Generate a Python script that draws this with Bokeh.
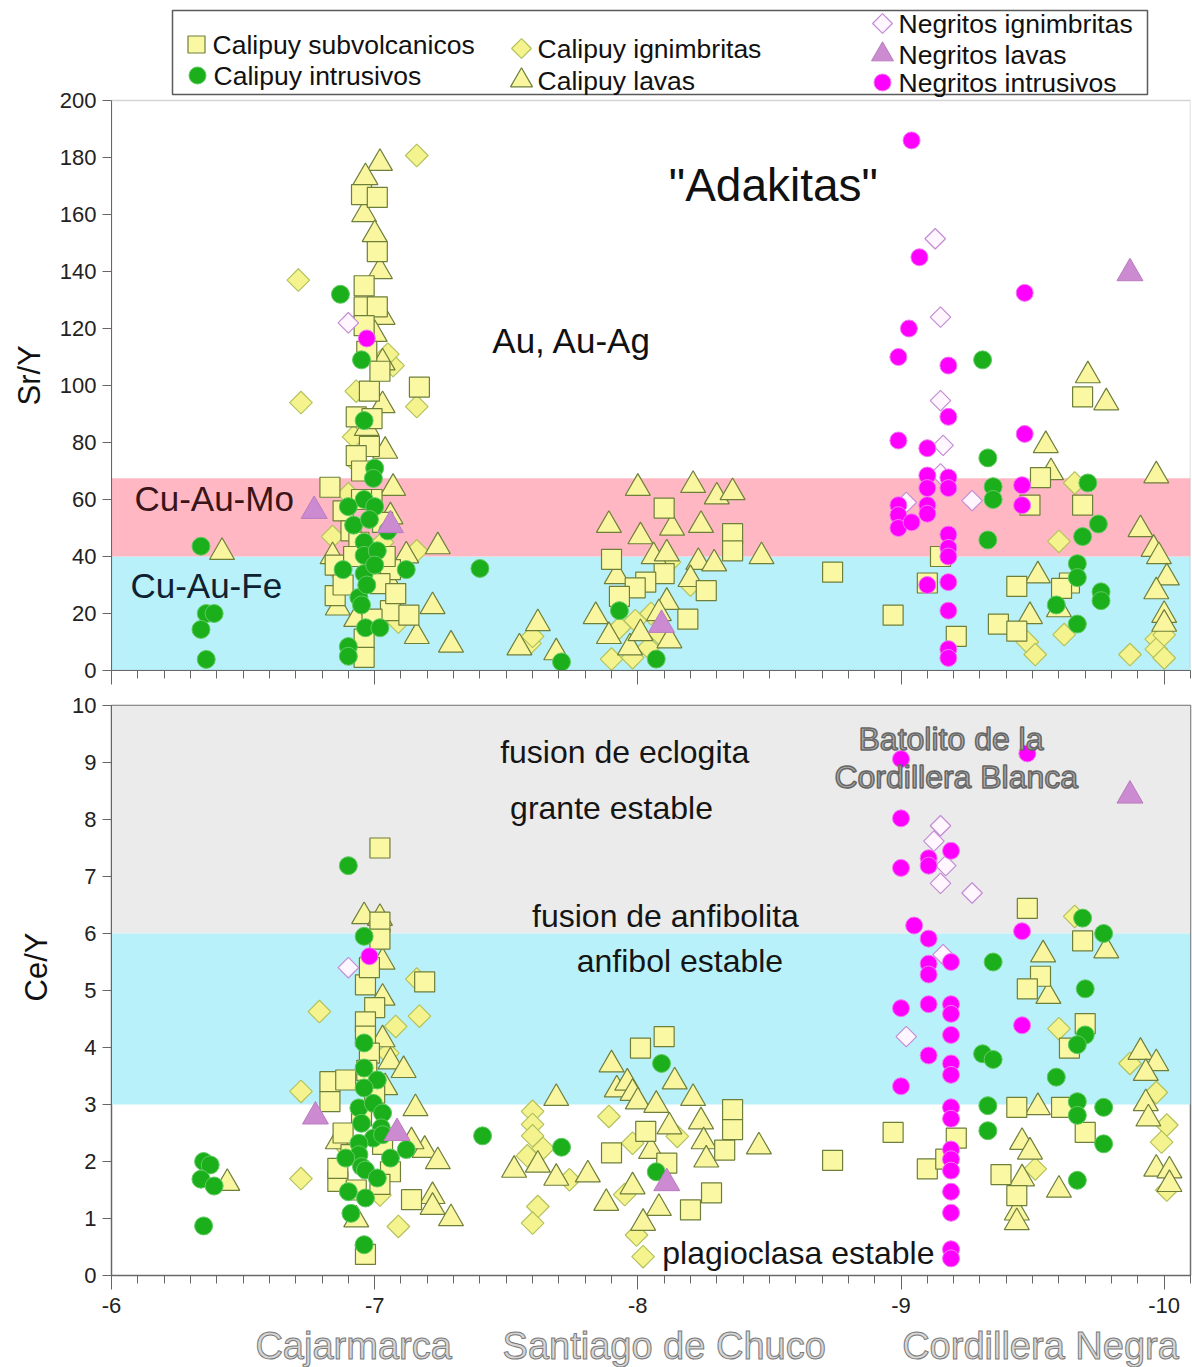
import numpy as np
from bokeh.plotting import figure
from bokeh.layouts import column
from bokeh.models import (Range1d, BoxAnnotation, SingleIntervalTicker, ColumnDataSource,
                          CustomJSTickFormatter, Title)
from bokeh.core.properties import value
from bokeh.embed import file_html
from bokeh.resources import INLINE

FONT = "Liberation Sans"

# ---------------- DATA (Sr/Y top panel, Ce/Y bottom panel) ----------------
# Calipuy subvolcanicos (squares)
subv_top_x = [-6.95, -7.01, -7.01, -6.96, -6.96, -7.01, -6.96, -6.98, -7.17, -6.93, -6.99, -6.98, -6.93, -6.83,
              -6.88, -6.85, -7.06, -6.85, -7.06, -7.13, -7.02, -6.96, -6.96, -6.91, -6.97, -7.02, -6.95, -6.99,
              -6.94, -7.03, -6.92, -6.88, -7.08, -6.99, -6.95, -7.04,
              -8.10, -8.36, -8.36, -7.90, -8.10, -8.03, -8.26, -8.19, -7.99, -7.93, -8.74,
              -9.69, -9.53, -9.49, -9.69, -9.44, -9.64, -9.61, -9.37, -9.44, -8.97, -9.21, -9.10, -9.15]
subv_top_y = [167, 166, 147, 135, 127.6, 127.6, 121, 98, 99.4, 89, 88.4, 78.6, 75.4, 64.3,
              56, 37, 35.4, 26.3, 21, 19.4, 30.5, 11, 4.6, 49, 112, 105, 70, 60,
              45, 52, 40, 30, 27, 18, 60, 40,
              57, 48, 42, 39, 34, 31, 28, 18, 29, 26, 34.5,
              96, 67.7, 58, 58, 29.5, 30.7, 28.8, 16.3, 13.8, 19.4, 12, 30.7, 40]
subv_bot_x = [-7.02, -7.02, -7.02, -7.19, -6.965, -7.0, -6.965, -6.965, -6.83, -6.89, -6.83, -6.86, -6.86,
              -7.14, -6.965, -7.06, -6.91, -6.98, -7.0, -6.95, -7.03, -6.93, -7.02, -6.88, -6.98, -6.97,
              -8.01, -8.10, -8.36, -8.36, -8.03, -7.90, -8.33, -8.11, -8.28, -8.20, -8.74,
              -9.48, -9.69, -9.53, -9.48, -9.70, -9.64, -9.44, -9.61, -9.70, -8.97, -9.21, -9.10, -9.17,
              -9.38, -9.44]
subv_bot_y = [7.5, 6.2, 5.9, 5.15, 5.1, 4.7, 4.45, 4.2, 3.4, 3.43, 3.05, 1.65, 1.88,
              1.33, 0.37, 1.82, 2.12, 3.9, 3.2, 2.8, 2.3, 1.5, 1.6, 2.5, 5.4, 3.6,
              3.99, 4.19, 2.91, 2.56, 2.53, 2.15, 2.2, 1.97, 1.45, 1.15, 2.02,
              6.44, 5.87, 5.25, 5.03, 4.42, 3.99, 2.95, 2.95, 2.51, 2.51, 2.41, 1.87, 2.04,
              1.77, 1.4]

# Calipuy intrusivos (green circles)
intr_top_x = [-6.34, -6.36, -6.39, -6.34, -6.36,
              -6.87, -6.95, -6.96, -7.0, -6.995, -6.96, -6.90, -7.0, -6.92, -6.96, -6.96, -7.01, -6.88,
              -6.96, -6.94, -6.95, -6.965, -7.02, -6.90, -6.90, -7.12, -7.05, -6.98, -6.97, -7.0,
              -7.40, -7.93, -8.07, -7.71,
              -9.31, -9.33, -9.35, -9.35, -9.33, -9.71, -9.75, -9.69, -9.67, -9.67, -9.76, -9.76, -9.59, -9.67]
intr_top_y = [43.6, 20, 20, 14.4, 3.9,
              132, 109, 87.7, 71, 67.4, 60, 57.5, 57.5, 51, 45, 40.4, 42, 35.4,
              34, 25.6, 23, 15, 15, 8.4, 5, 35.4, 49, 53, 30, 37,
              35.8, 21, 4, 3,
              109, 74.6, 64.5, 60, 45.8, 65.8, 51.4, 47, 37.5, 32.6, 27.6, 24.5, 23, 16.3]
intr_bot_x = [-6.35, -6.375, -6.34, -6.39, -6.35,
              -6.90, -6.96, -6.96, -6.96, -7.01, -6.96, -6.94, -6.995, -7.03, -6.95, -7.025, -6.995, -7.03,
              -6.94, -6.94, -6.95, -6.89, -6.965, -7.01, -7.06, -7.12, -6.90, -6.965, -6.91, -6.96,
              -7.41, -7.71, -8.09, -8.07,
              -9.69, -9.77, -9.35, -9.70, -9.70, -9.67, -9.31, -9.35, -9.59, -9.33, -9.33, -9.67, -9.67,
              -9.77, -9.77, -9.67]
intr_bot_y = [2.0, 1.94, 1.69, 1.57, 0.87,
              7.19, 5.95, 4.08, 3.64, 3.43, 3.29, 2.94, 3.02, 2.85, 2.67, 2.59, 2.41, 2.47,
              2.32, 2.12, 1.91, 2.06, 1.85, 1.71, 2.06, 2.21, 1.47, 1.36, 1.09, 0.54,
              2.45, 2.25, 3.72, 1.82,
              6.27, 6.0, 5.5, 5.03, 4.22, 4.05, 3.89, 3.79, 3.48, 2.98, 2.54, 3.05, 2.81,
              2.95, 2.31, 1.67]

# Calipuy ignimbritas (yellow diamonds)
ign_top_x = [-7.16, -6.71, -6.72, -7.16, -7.07, -7.05, -6.93, -6.92, -6.94, -7.16, -6.84, -7.09, -6.86,
             -6.90, -7.03,
             -7.59, -7.90, -7.98, -8.05, -8.08, -8.12, -7.99, -8.04, -7.93, -7.60, -8.20,
             -9.60, -9.66, -9.48, -9.51, -9.87, -9.97, -9.97, -10.0, -10.0, -9.62]
ign_top_y = [180.7, 137, 94, 92.6, 107, 111, 98, 82, 72, 42, 47, 17, 35,
             62, 45,
             9.5, 4, 4.5, 20, 13, 38, 17.5, 8, 15, 12, 30,
             45.3, 65.8, 10, 5.6, 5.6, 11, 7.5, 4.4, 12.5, 12.6]
ign_bot_x = [-6.79, -7.17, -7.08, -7.16, -6.72, -6.72, -7.09, -7.02, -6.88, -7.05,
             -7.60, -7.60, -7.60, -7.64, -7.58, -7.62, -7.60, -7.74, -7.89, -7.995, -8.02, -7.98, -7.95, -8.15,
             -9.66, -9.87, -9.97, -10.01, -9.99, -9.60, -9.51, -10.01]
ign_bot_y = [4.63, 4.55, 4.37, 5.2, 3.23, 1.7, 0.86, 1.41, 2.3, 3.9,
             2.88, 2.65, 2.45, 2.23, 2.1, 1.21, 0.92, 1.68, 2.79, 0.71, 0.33, 2.32, 1.42, 2.44,
             6.3, 3.72, 3.21, 2.64, 2.34, 4.33, 1.87, 1.5]

# Calipuy lavas (yellow triangles)
lav_top_x = [-6.42,
             -7.02, -6.965, -6.96, -7.0, -7.02, -7.03, -7.03, -7.03, -7.04, -7.07, -7.06, -7.24, -7.22,
             -7.16, -7.29, -6.86, -6.84, -7.12, -7.0, -6.97, -7.06, -6.93,
             -8.0, -8.21, -8.30, -8.36, -7.89, -8.01, -8.13, -8.24, -8.47, -8.06, -8.11, -8.23, -8.29,
             -8.20, -7.92, -7.84, -7.62, -7.55, -7.69, -7.89, -7.97, -8.12, -8.01, -8.11, -8.08,
             -9.71, -9.78, -9.55, -9.57, -9.97, -9.91, -9.96, -9.98, -10.01, -9.97, -9.52, -9.49, -9.60,
             -10.0, -10.0]
lav_top_y = [41.5,
             178, 173, 160, 153, 140, 124, 108, 93, 77, 64, 54, 43.5, 22.5,
             12, 9, 22, 40, 40.3, 118, 85, 30, 18,
             64, 65, 61, 62.5, 51, 47, 50, 51, 40, 40, 41, 38, 37.5,
             32, 33, 19, 16.5, 8, 6.3, 12, 8, 10.5, 13, 24, 20,
             103.5, 94, 79, 69.5, 68.4, 49.5, 42.6, 40, 32.6, 27.7, 33.3, 19, 21.4,
             19.4, 16.3]
lav_bot_x = [-6.44,
             -6.96, -7.02, -7.03, -7.03, -7.03, -7.06, -7.11, -7.155, -7.04, -7.19, -7.24, -7.22, -7.22,
             -7.29, -6.93, -6.86, -7.14,
             -7.90, -7.69, -7.92, -7.96, -7.98, -8.0, -8.07, -8.14, -8.21, -8.12, -8.24, -8.25, -8.26,
             -8.46, -7.53, -7.62, -7.69, -7.81, -7.98, -7.88, -8.08, -8.02, -8.05,
             -9.54, -9.78, -9.56, -9.91, -9.97, -9.93, -9.52, -9.93, -9.94, -9.46, -9.49, -9.46, -9.60,
             -9.44, -9.44, -9.97, -10.02, -10.02]
lav_bot_y = [1.62,
             6.3, 6.27, 5.5, 4.87, 4.14, 3.75, 3.6, 2.93, 3.3, 2.2, 2.0, 1.39, 1.2,
             1.0, 0.98, 2.35, 2.35,
             3.7, 3.11, 3.26, 3.38, 3.2, 3.05, 2.99, 3.4, 3.11, 2.61, 2.7, 2.35, 2.03,
             2.26, 1.85, 1.94, 1.71, 1.77, 1.56, 1.27, 1.18, 0.92, 2.18,
             5.63, 5.7, 4.9, 3.92, 3.72, 3.55, 2.95, 3.02, 2.75, 2.34, 2.17, 1.7, 1.5,
             1.1, 0.93, 1.87, 1.84, 1.6]

# Negritos ignimbritas (open diamonds)
nign_top_x = [-6.90, -9.13, -9.15, -9.15, -9.16, -9.15, -9.02, -9.27]
nign_top_y = [122, 151.5, 124, 94.7, 79, 69, 59, 59.6]
nign_bot_x = [-6.90, -9.15, -9.125, -9.17, -9.15, -9.27, -9.16, -9.02]
nign_bot_y = [5.4, 7.89, 7.62, 7.19, 6.88, 6.71, 5.63, 4.19]

# Negritos lavas (purple triangles)
nlav_top_x = [-6.77, -7.06, -8.09, -9.87]
nlav_top_y = [56, 51, 16, 139.4]
nlav_bot_x = [-6.775, -7.085, -8.11, -9.87]
nlav_bot_y = [2.79, 2.5, 1.62, 8.42]

# Negritos intrusivos (magenta circles)
nint_top_x = [-6.97, -9.04, -9.07, -9.47, -9.03, -8.99, -9.18, -9.18, -8.99, -9.10, -9.47, -9.10, -9.10,
              -9.18, -9.18, -9.10, -9.10, -8.99, -8.99, -8.99, -9.04, -9.46, -9.46, -9.18, -9.18, -9.18,
              -9.10, -9.18, -9.18, -9.18, -9.18]
nint_top_y = [116.5, 186, 145, 132.5, 120, 110, 107, 89, 80.7, 78, 83, 68.4, 64,
              67.7, 64, 58, 55, 58, 54.5, 50, 52, 65, 58, 47.7, 43, 40,
              30, 31, 21, 7.5, 4.4]
nint_bot_x = [-6.98, -9.0, -9.48, -9.0, -9.0, -9.105, -9.19, -9.105, -9.05, -9.105, -9.46, -9.19, -9.105,
              -9.105, -9.0, -9.105, -9.19, -9.19, -9.19, -9.46, -9.105, -9.19, -9.19, -9.0, -9.19, -9.19,
              -9.19, -9.19, -9.19, -9.19, -9.19, -9.19, -9.19]
nint_bot_y = [5.6, 9.06, 9.16, 8.02, 7.15, 7.32, 7.45, 7.19, 6.14, 5.91, 6.04, 5.5, 5.47,
              5.28, 4.69, 4.76, 4.76, 4.59, 4.22, 4.39, 3.86, 3.72, 3.52, 3.32, 2.95, 2.75,
              2.21, 2.04, 1.84, 1.47, 1.1, 0.46, 0.3]

# Axis extents and field boundaries
x_limits = [-6, -10.1]
sry_limits = [0, 200]
cey_limits = [0, 10]
sry_bands = [0, 40, 67.5]          # Cu-Au-Fe: 0-40, Cu-Au-Mo: 40-67.5
cey_bands = [3, 6, 10]             # anfibol estable 3-6, granate estable 6-10

sry_labels = ['"Adakitas"', "Au, Au-Ag", "Cu-Au-Mo", "Cu-Au-Fe"]
cey_labels = ["fusion de eclogita", "grante estable", "fusion de anfibolita", "anfibol estable",
              "plagioclasa estable"]
batolito_labels = ["Batolito de la", "Cordillera Blanca"]
region_labels = ["Cajarmarca", "Santiago de Chuco", "Cordillera Negra"]

# ---------------- STYLES ----------------
SERIES = [
    dict(label="Calipuy ignimbritas", top=(ign_top_x, ign_top_y), bot=(ign_bot_x, ign_bot_y),
         marker="square", size=16, angle=np.pi / 4, fill="#F5F38E", line="#B3C25C", lw=1.2),
    dict(label="Calipuy lavas", top=(lav_top_x, lav_top_y), bot=(lav_bot_x, lav_bot_y),
         marker="triangle", size=25, angle=0, fill="#FAF6A0", line="#6E7F3A", lw=1.2),
    dict(label="Calipuy subvolcanicos", top=(subv_top_x, subv_top_y), bot=(subv_bot_x, subv_bot_y),
         marker="square", size=20, angle=0, fill="#FBF8A3", line="#6E7F3A", lw=1.2),
    dict(label="Calipuy intrusivos", top=(intr_top_x, intr_top_y), bot=(intr_bot_x, intr_bot_y),
         marker="circle", size=18, angle=0, fill="#1CAF1C", line="#5FCB5F", lw=1.0),
    dict(label="Negritos lavas", top=(nlav_top_x, nlav_top_y), bot=(nlav_bot_x, nlav_bot_y),
         marker="triangle", size=26, angle=0, fill="#CC8AD0", line="#B87CC0", lw=1.0),
    dict(label="Negritos ignimbritas", top=(nign_top_x, nign_top_y), bot=(nign_bot_x, nign_bot_y),
         marker="square", size=14.5, angle=np.pi / 4, fill="#FFF6FF", line="#C48BD4", lw=1.2),
    dict(label="Negritos intrusivos", top=(nint_top_x, nint_top_y), bot=(nint_bot_x, nint_bot_y),
         marker="circle", size=17, angle=0, fill="#FF00FF", line="#F27AF2", lw=1.0),
]

AX = "#666666"
FRAME = "#707070"
W = 1192
BL, BR = 111, 2                      # left/right borders (px)
FRAME_W = W - BL - BR
TOP_FRAME_H = 670                    # top panel frame: y=0..670 px (legend area above the 200 line)
SRY_PX = 2.85                        # px per Sr/Y unit
sry_top_extent = sry_limits[1] + 100 / SRY_PX


def px_x(px):
    """page pixel x -> data x (layout helper for legend placement)"""
    return x_limits[0] + (x_limits[1] - x_limits[0]) * (px - BL) / FRAME_W


def px_y(py):
    """page pixel y -> top panel data y (layout helper for legend placement)"""
    return (TOP_FRAME_H - py) / SRY_PX


hyphen_fmt = CustomJSTickFormatter(code="return String(tick);")
empty_fmt = CustomJSTickFormatter(code="return '';")


def style_panel(p, ytick, show_xlabels, ybounds):
    p.grid.visible = False
    p.background_fill_color = "white"
    xa = p.xaxis[0]
    xa.ticker = SingleIntervalTicker(interval=1, num_minor_ticks=10)
    xa.axis_line_color = AX
    xa.major_tick_line_color = AX
    xa.minor_tick_line_color = AX
    xa.major_tick_in = 0
    xa.major_tick_out = 14
    xa.minor_tick_in = 0
    xa.minor_tick_out = 8
    xa.major_label_text_font = FONT
    xa.major_label_text_color = "#222222"
    xa.major_label_text_font_size = "22px"
    if show_xlabels:
        xa.formatter = hyphen_fmt
        xa.major_label_standoff = 8
    else:
        xa.formatter = empty_fmt
        xa.major_label_standoff = 0
    ya = p.yaxis[0]
    ya.bounds = tuple(ybounds)
    ya.ticker = SingleIntervalTicker(interval=ytick, num_minor_ticks=0)
    ya.axis_line_color = AX
    ya.major_tick_line_color = AX
    ya.major_tick_in = 0
    ya.major_tick_out = 9
    ya.minor_tick_line_color = None
    ya.major_label_text_font = FONT
    ya.major_label_text_font_size = "22px"
    ya.major_label_text_color = "#222222"
    ya.major_label_standoff = 6


def add_ylabel(p, text, offset, standoff):
    p.add_layout(Title(text=text, align="left", vertical_align="top", offset=offset, standoff=standoff,
                       text_font=FONT, text_font_size="31px", text_font_style="normal",
                       text_color="#111111"), "left")


def draw_series(p, which):
    for s in SERIES:
        xs, ys = s[which]
        src = ColumnDataSource(dict(x=xs, y=ys))
        p.scatter("x", "y", source=src, marker=s["marker"], size=s["size"], angle=s["angle"],
                  fill_color=s["fill"], line_color=s["line"], line_width=s["lw"])


# ---------------- TOP PANEL (Sr/Y) + legend area ----------------
top = figure(width=W, height=TOP_FRAME_H + 19, x_range=Range1d(*x_limits),
             y_range=Range1d(sry_limits[0], sry_top_extent),
             output_backend="svg", toolbar_location=None,
             min_border_left=BL, min_border_right=BR, min_border_top=0, min_border_bottom=19)
style_panel(top, 20, False, sry_limits)
top.outline_line_color = None
add_ylabel(top, "Sr/Y", 265, 16)
top.add_layout(BoxAnnotation(bottom=sry_bands[0], top=sry_bands[1], fill_color="#B9F1FA",
                             fill_alpha=1, line_color=None, level="underlay"))
top.add_layout(BoxAnnotation(bottom=sry_bands[1], top=sry_bands[2], fill_color="#FFB8C3",
                             fill_alpha=1, line_color=None, level="underlay"))
top.add_layout(BoxAnnotation(left=x_limits[0], right=x_limits[1], bottom=sry_limits[0],
                             top=sry_limits[1], fill_color=None, line_color=FRAME, line_width=1.5))
draw_series(top, "top")
top.text(x=[-8.515], y=[170.2], text=[sry_labels[0]], text_font=value(FONT), text_font_size="46px",
         text_align="center", text_baseline="middle", text_color="#111111")
top.text(x=[-7.75], y=[115.8], text=[sry_labels[1]], text_font=value(FONT), text_font_size="35px",
         text_align="center", text_baseline="middle", text_color="#111111")
top.text(x=[-6.39], y=[60.4], text=[sry_labels[2]], text_font=value(FONT), text_font_size="35px",
         text_align="center", text_baseline="middle", text_color="#3a1418")
top.text(x=[-6.36], y=[29.8], text=[sry_labels[3]], text_font=value(FONT), text_font_size="35px",
         text_align="center", text_baseline="middle", text_color="#0e2233")

# legend (drawn in the area above the Sr/Y = 200 line)
top.quad(left=[px_x(172)], right=[px_x(1147)], top=[px_y(10)], bottom=[px_y(94)],
         fill_color="white", line_color="#5a5a5a", line_width=1.5)
legend_order = ["Calipuy subvolcanicos", "Calipuy intrusivos", "Calipuy ignimbritas", "Calipuy lavas",
                "Negritos ignimbritas", "Negritos lavas", "Negritos intrusivos"]
legend_px = [(196, 44), (197, 75), (521, 48), (521, 80), (882, 23), (882, 54), (882, 82)]
legend_size = {"Calipuy subvolcanicos": 17, "Calipuy intrusivos": 17, "Calipuy ignimbritas": 14,
               "Calipuy lavas": 22, "Negritos ignimbritas": 14, "Negritos lavas": 22, "Negritos intrusivos": 17}
sty = {s["label"]: s for s in SERIES}
for lab, (lx, ly) in zip(legend_order, legend_px):
    s = sty[lab]
    top.scatter([px_x(lx)], [px_y(ly)], marker=s["marker"], size=legend_size[lab], angle=s["angle"],
                fill_color=s["fill"], line_color=s["line"], line_width=s["lw"])
top.text(x=[px_x(p[0] + 16) for p in legend_px], y=[px_y(p[1]) for p in legend_px], text=legend_order,
         text_font=value(FONT), text_font_size="26.5px", text_baseline="middle", text_align="left",
         text_color="#111111")

# ---------------- BOTTOM PANEL (Ce/Y) ----------------
bot = figure(width=W, height=16 + 570 + 48, x_range=top.x_range, y_range=Range1d(*cey_limits),
             output_backend="svg", toolbar_location=None,
             min_border_left=BL, min_border_right=BR, min_border_top=16, min_border_bottom=48)
style_panel(bot, 1, True, cey_limits)
bot.outline_line_color = FRAME
bot.outline_line_width = 1.5
add_ylabel(bot, "Ce/Y", 274, 28)
bot.add_layout(BoxAnnotation(bottom=cey_bands[1], top=cey_bands[2], fill_color="#EBEBEB",
                             fill_alpha=1, line_color=None, level="underlay"))
bot.add_layout(BoxAnnotation(bottom=cey_bands[0], top=cey_bands[1], fill_color="#B9F1FA",
                             fill_alpha=1, line_color=None, level="underlay"))
draw_series(bot, "bot")
ann_x = [-7.95, -7.90, -8.105, -8.16, -8.61]
ann_y = [9.19, 8.21, 6.30, 5.51, 0.39]
bot.text(x=ann_x, y=ann_y, text=cey_labels, text_font=value(FONT), text_font_size="32px",
         text_align="center", text_baseline="middle", text_color="#151515")
bot.text(x=[-9.19, -9.21], y=[9.42, 8.75], text=batolito_labels, text_font=value(FONT),
         text_font_size="32px", text_align="center", text_baseline="middle",
         text_color="#acacac", text_outline_color="#666666")

# ---------------- REGION LABELS STRIP ----------------
reg = figure(width=W, height=44, x_range=top.x_range, y_range=Range1d(0, 1),
             output_backend="svg", toolbar_location=None, x_axis_type=None, y_axis_type=None,
             min_border_left=BL, min_border_right=BR, min_border_top=0, min_border_bottom=0)
reg.grid.visible = False
reg.outline_line_color = None
reg.text(x=[-6.92, -8.10, -9.53], y=[0.5, 0.5, 0.5], text=region_labels, text_font=value(FONT),
         text_font_size="38px", text_align="center", text_baseline="middle",
         text_color="#d6d6d6", text_outline_color="#7a7a7a")

layout = column(top, bot, reg, spacing=0)
open("out.html", "w").write(file_html(layout, INLINE))
